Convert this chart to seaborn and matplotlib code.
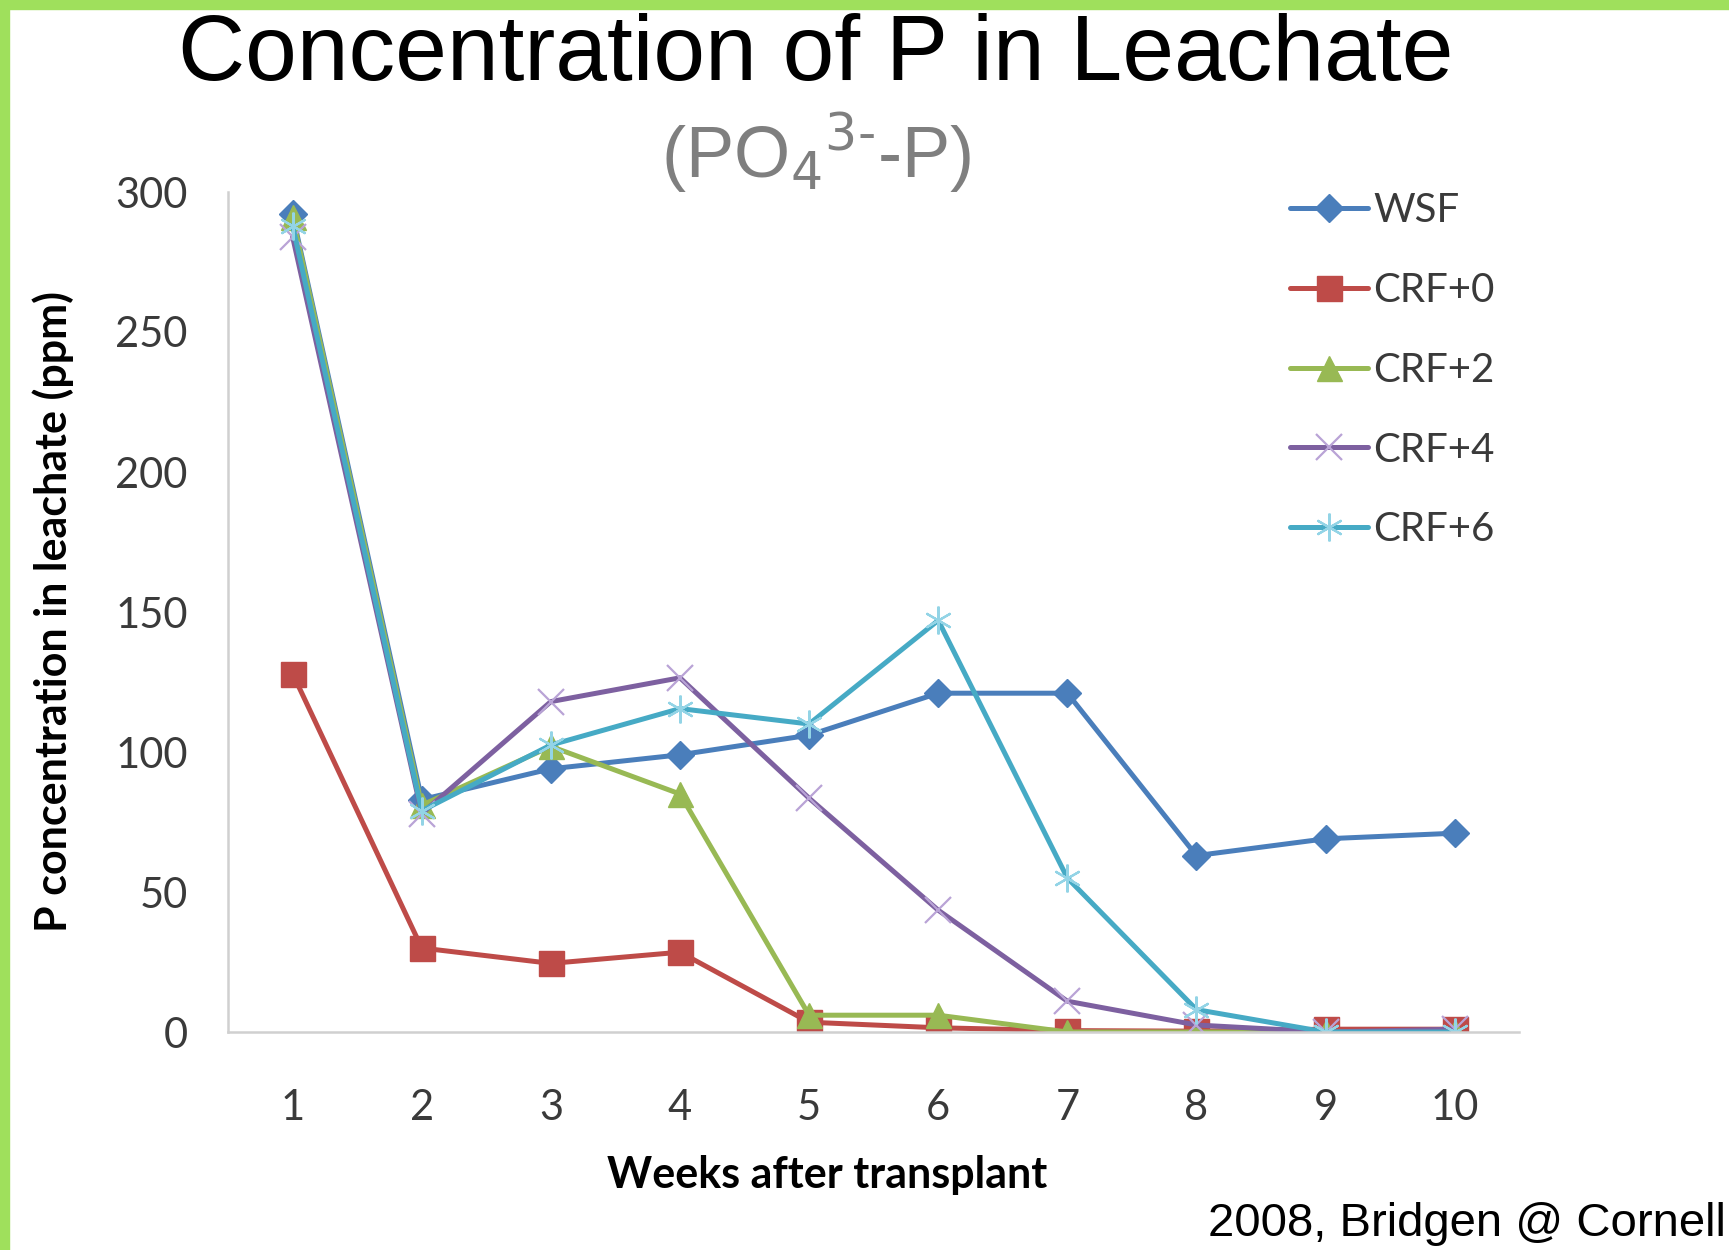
import matplotlib
matplotlib.use("Agg")
import matplotlib.pyplot as plt
from matplotlib.patches import Rectangle
import seaborn as sns

# data
weeks = [1, 2, 3, 4, 5, 6, 7, 8, 9, 10]
wsf = [292, 83, 94, 99, 106, 121, 121, 63, 69, 71]
crf0 = [128, 30, 24.5, 28.5, 3.5, 1.5, 0.5, 0.3, 1, 1]
crf2 = [291, 81, 102, 85, 6, 6, 0, 0, 0, 0]
crf4 = [284, 78, 118, 126.5, 83.5, 43.5, 11, 2.5, 0, 1]
crf6 = [288, 79, 102.5, 115.5, 110, 147, 55, 8, 0, 0]

series_names = ["WSF", "CRF+0", "CRF+2", "CRF+4", "CRF+6"]
series_vals = [wsf, crf0, crf2, crf4, crf6]
y_ticks = [0, 50, 100, 150, 200, 250, 300]

# style per series: line colour, marker, marker size, marker colour, edge width
styles = {
    "WSF": ("#4a7ebb", "D", 14, "#4a7ebb", 1.0),
    "CRF+0": ("#be4b48", "s", 18, "#be4b48", 1.0),
    "CRF+2": ("#98b954", "^", 18, "#98b954", 1.0),
    "CRF+4": ("#7d60a0", "x", 19, "#b9a3d6", 1.6),
    "CRF+6": ("#46aac5", (6, 2, 0), 20, "#93d4e6", 1.6),
}

sns.set_theme(style="white")
plt.rcParams["font.family"] = ["Lato", "DejaVu Sans"]
plt.rcParams["mathtext.fontset"] = "custom"

fig = plt.figure(figsize=(17.29, 12.5), dpi=100)
fig.patch.set_facecolor("white")
ax = fig.add_axes([0.1319, 0.1744, 0.8787 - 0.1319, 0.8464 - 0.1744])

for name, vals in zip(series_names, series_vals):
    color, marker, ms, mcol, mew = styles[name]
    sns.lineplot(
        x=weeks, y=vals, ax=ax, color=color, lw=3.6, marker=marker,
        markersize=ms, mfc=mcol, mec=mcol, mew=mew, label=name,
    )

ax.set_xlim(0.5, 10.5)
ax.set_ylim(0, 300)
ax.set_xticks(weeks)
ax.set_yticks(y_ticks)
ax.tick_params(axis="both", length=0, labelsize=30, labelcolor="#3a3a3a")
ax.tick_params(axis="x", pad=41)
ax.tick_params(axis="y", pad=29)
for s in ["top", "right"]:
    ax.spines[s].set_visible(False)
for s in ["left", "bottom"]:
    ax.spines[s].set_color("#d0d0d0")
    ax.spines[s].set_linewidth(1.8)
ax.grid(False)

ax.set_xlabel("Weeks after transplant", fontsize=31, fontweight="bold", color="black")
ax.set_ylabel("P concentration in leachate (ppm)", fontsize=31, fontweight="bold", color="black")
ax.xaxis.set_label_coords(0.4636, -0.146)
ax.yaxis.set_label_coords(-0.119, 0.5)

ax.legend(
    loc="upper left", bbox_to_anchor=(0.746, 0.846), bbox_transform=fig.transFigure,
    frameon=False, fontsize=29, handlelength=1.95, handletextpad=0.12,
    labelspacing=1.06, borderpad=0, borderaxespad=0, numpoints=1,
    labelcolor="#3a3a3a",
)

fig.text(0.472, 0.955, "Concentration of P in Leachate", ha="center", va="center",
         fontsize=67, family=["Liberation Sans", "DejaVu Sans"], color="black")
fig.text(0.472, 0.877, "(PO$_4$$^{3\u2010}$-P)", ha="center", va="center",
         fontsize=52, family=["Liberation Sans", "DejaVu Sans"], color="#7f7f7f")
fig.text(0.998, 0.021, "2008, Bridgen @ Cornell", ha="right", va="center",
         fontsize=34, family=["Liberation Sans", "DejaVu Sans"], color="black")

# green frame on the left and top edges
green = "#9fe05c"
fig.patches.append(Rectangle((0, 0), 9 / 1729, 1, transform=fig.transFigure, color=green, zorder=10))
fig.patches.append(Rectangle((0, 1 - 9 / 1250), 1, 9 / 1250, transform=fig.transFigure, color=green, zorder=10))

fig.savefig("out.png", dpi=100)
